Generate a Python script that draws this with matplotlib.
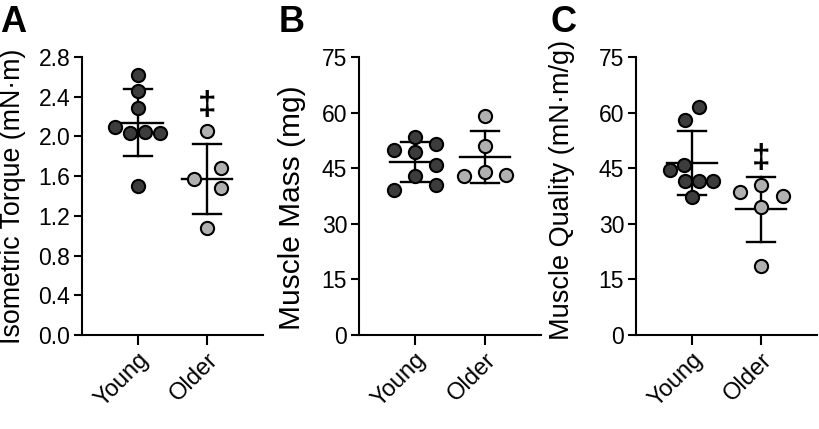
import numpy as np
import matplotlib
matplotlib.use("Agg")
import matplotlib.pyplot as plt

plt.rcParams['font.family'] = ['Liberation Sans', 'DejaVu Sans']

# --- data ---
groups = ['Young', 'Older']

torque_young = [2.62, 2.46, 2.29, 2.10, 2.04, 2.05, 2.04, 1.50]
torque_older = [2.06, 1.68, 1.57, 1.48, 1.08]

mass_young = [53.5, 50.0, 49.5, 51.5, 45.9, 42.8, 39.0, 40.4]
mass_older = [59.1, 51.1, 42.8, 43.9, 43.1]

quality_young = [61.4, 58.1, 46.0, 44.6, 41.5, 41.5, 41.5, 37.2]
quality_older = [40.5, 38.5, 37.4, 34.5, 18.6]

# --- layout: horizontal spread of dots (category units), same order as values ---
spread_torque_young = [0, 0, 0, -0.32, -0.11, 0.11, 0.32, 0]
spread_torque_older = [0, 0.19, -0.19, 0.19, 0]
spread_mass_young = [0, -0.30, 0, 0.30, 0.30, 0, -0.30, 0.30]
spread_mass_older = [0, 0, -0.30, 0, 0.30]
spread_quality_young = [0.11, -0.10, -0.11, -0.31, -0.10, 0.10, 0.31, 0]
spread_quality_older = [0, -0.31, 0.31, 0, 0]

young_color = '#3c3c3c'
older_color = '#b0b0b0'

fig = plt.figure(figsize=(8.19, 4.29), dpi=100)

panels = [
    dict(letter='A', rect=[0.1001, 0.219, 0.221, 0.648],
         ylabel='Isometric Torque (mN·m)', ymax=2.8, step=0.4, fmt='{:.1f}',
         young=torque_young, older=torque_older,
         sy=spread_torque_young, so=spread_torque_older, dagger=2.31,
         lx=0.0, lab=(-0.31, 0.50), lsize=19.3),
    dict(letter='B', rect=[0.4383, 0.219, 0.222, 0.648],
         ylabel='Muscle Mass (mg)', ymax=75, step=15, fmt='{:.0f}',
         young=mass_young, older=mass_older,
         sy=spread_mass_young, so=spread_mass_older, dagger=None,
         lx=0.340, lab=(-0.294, 0.457), lsize=21.5),
    dict(letter='C', rect=[0.7766, 0.219, 0.221, 0.648],
         ylabel='Muscle Quality (mN·m/g)', ymax=75, step=15, fmt='{:.0f}',
         young=quality_young, older=quality_older,
         sy=spread_quality_young, so=spread_quality_older, dagger=47.7,
         lx=0.672, lab=(-0.335, 0.522), lsize=19.5),
]

for p in panels:
    ax = fig.add_axes(p['rect'])
    for i, (vals, spread, col) in enumerate([(p['young'], p['sy'], young_color),
                                              (p['older'], p['so'], older_color)]):
        vals = np.array(vals)
        x = i + np.array(spread)
        ax.plot(x, vals, 'o', ms=9.5, mfc=col, mec='black', mew=1.5,
                zorder=3, clip_on=False)
        m = vals.mean()
        sd = vals.std(ddof=1)
        ax.plot([i - 0.36, i + 0.36], [m, m], color='black', lw=1.7, zorder=2)
        ax.plot([i, i], [m - sd, m + sd], color='black', lw=1.7, zorder=2)
        for v in (m - sd, m + sd):
            ax.plot([i - 0.2, i + 0.2], [v, v], color='black', lw=1.7, zorder=2)
    if p['dagger'] is not None:
        ax.text(1, p['dagger'], '‡', ha='center', va='center',
                fontsize=24, fontweight='bold')

    ax.set_xlim(-0.8, 1.8)
    ax.set_ylim(0, p['ymax'])
    ticks = np.arange(0, p['ymax'] + p['step'] / 2, p['step'])
    ax.set_yticks(ticks)
    ax.set_yticklabels([p['fmt'].format(t) for t in ticks])
    ax.set_xticks([0, 1])
    ax.set_xticklabels(groups, rotation=45, ha='right', va='top',
                       rotation_mode='anchor')
    ax.set_ylabel(p['ylabel'], fontsize=p['lsize'])
    ax.yaxis.set_label_coords(*p['lab'])
    for s in ('top', 'right'):
        ax.spines[s].set_visible(False)
    for s in ('left', 'bottom'):
        ax.spines[s].set_linewidth(1.5)
    ax.tick_params(axis='both', labelsize=16.5, width=1.5, length=6, pad=2.5)
    ax.tick_params(axis='x', labelsize=17, length=7, pad=3)
    fig.text(p['lx'], 0.988, p['letter'], fontsize=26, fontweight='bold',
             ha='left', va='top')

fig.savefig('out.png', dpi=100)
